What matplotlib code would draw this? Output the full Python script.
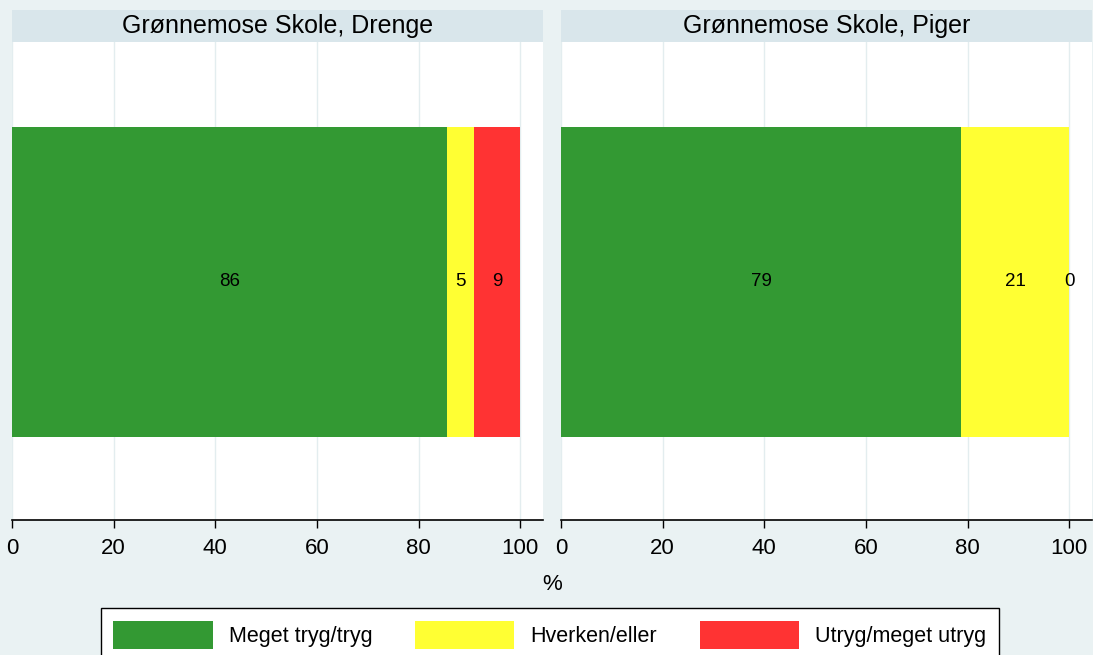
import matplotlib
matplotlib.use('Agg')
from matplotlib import pyplot as plt
from matplotlib.patches import Patch

plt.rcParams['font.family'] = ['Liberation Sans', 'DejaVu Sans']

# Data
panels = ['Grønnemose Skole, Drenge', 'Grønnemose Skole, Piger']
categories = ['Meget tryg/tryg', 'Hverken/eller', 'Utryg/meget utryg']
values = [
	[85.7, 5.2, 9.1],
	[78.7, 21.3, 0.0],
]
colors = ['#339933', '#FFFF33', '#FF3333']
ticks = [0, 20, 40, 60, 80, 100]

bg = '#EAF2F3'
strip = '#D9E6EB'

fig = plt.figure(figsize=(10.93, 6.55), dpi=100, facecolor=bg)

# Panelernes placering (figurbrøker)
lefts = [12 / 1093, 561 / 1093]
width = 531 / 1093
bottom = 1 - 520 / 655
height = 478 / 655
strip_h = 32 / 655

for k in range(len(panels)):
	ax = fig.add_axes([lefts[k], bottom, width, height])
	ax.set_facecolor('white')
	left = 0
	for i, v in enumerate(values[k]):
		ax.barh(0, v, left=left, height=1.0, color=colors[i], edgecolor='none', zorder=2)
		ax.text(left + v / 2, 0, f'{v:.0f}', ha='center', va='center', fontsize=13.5, zorder=3)
		left += v
	ax.set_xlim(0, 104.5)
	ax.set_ylim(-0.768, 0.774)
	ax.set_xticks(ticks)
	ax.set_yticks([])
	ax.grid(axis='x', color='#E3EDEF', linewidth=1.0, zorder=0)
	for s in ['top', 'left', 'right']:
		ax.spines[s].set_visible(False)
	ax.spines['bottom'].set_linewidth(1.2)
	ax.tick_params(axis='x', direction='out', length=6, width=1.0, pad=7, labelsize=16)

	# Titelbånd
	sax = fig.add_axes([lefts[k], bottom + height, width, strip_h])
	sax.set_facecolor(strip)
	sax.set_xticks([])
	sax.set_yticks([])
	for s in sax.spines.values():
		s.set_visible(False)
	sax.text(0.5, 0.5, panels[k], ha='center', va='center', fontsize=18, transform=sax.transAxes)

fig.text(552 / 1093, 1 - 584 / 655, '%', ha='center', va='center', fontsize=16)

handles = [Patch(facecolor=c, edgecolor='none') for c in colors]
leg = fig.legend(handles, categories, loc='upper center', bbox_to_anchor=(550 / 1093, 1 - 608 / 655),
	ncol=3, fontsize=15.5, frameon=True, fancybox=False, edgecolor='black', borderaxespad=0,
	facecolor='white', framealpha=1.0,
	handlelength=4.6, handleheight=1.6, handletextpad=0.75, columnspacing=2.0, borderpad=0.6)
leg.get_frame().set_linewidth(1.0)

fig.savefig('out.png', dpi=100, facecolor=bg)
